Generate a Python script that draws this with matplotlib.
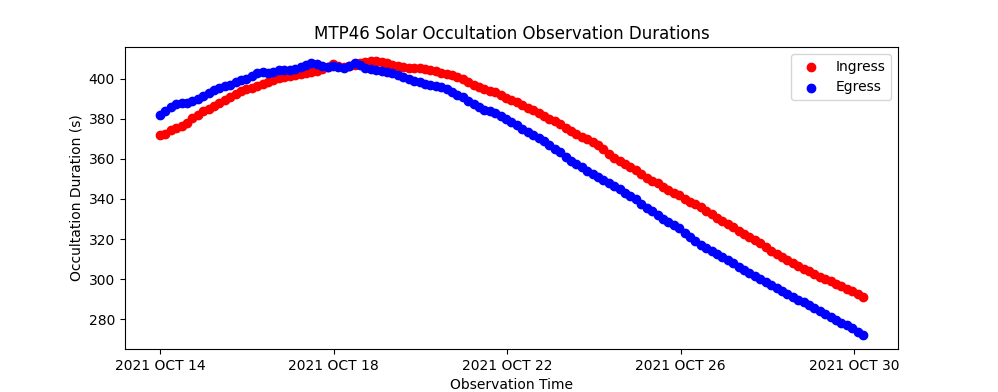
import numpy as np
import matplotlib
matplotlib.use("Agg")
import matplotlib.pyplot as plt

# observation times in days of October 2021
days = np.linspace(14.0, 30.2, 131)

ingress = [372, 372.5, 374.5, 375.5, 376.5, 378, 380.5, 382, 384, 385,
           386.5, 388, 389.5, 391, 392.5, 394, 395, 395.5, 396.5, 397.5,
           398.5, 399.5, 400.5, 401, 401.5, 402, 402.5, 403, 403.5, 404,
           405, 406, 407.5, 406.5, 406, 406.5, 407, 408, 408.5, 409,
           409, 408.5, 408, 407, 406.5, 406, 405.5, 405.5, 405.5, 405,
           404.5, 404, 403, 402.5, 402, 401, 400, 398.5, 397, 396,
           395, 394, 393.5, 392, 390.5, 389.5, 388.5, 387, 385.5, 384.5,
           383, 381.5, 380, 379, 377.5, 375.5, 374, 372.5, 371, 370,
           368.5, 367, 365, 362.5, 360.5, 359, 357.5, 356, 354.5, 352.5,
           350.5, 349, 348, 346, 344.5, 343, 342, 340, 338.5, 337.5,
           336, 334, 332.5, 330.5, 329, 327.5, 326, 324, 322.5, 321,
           319.5, 318, 316, 314, 312.5, 311, 309.5, 308, 306.5, 305,
           304, 302.5, 301, 300, 299, 297.5, 296.5, 295, 294, 292.5,
           291]

egress = [382, 384, 386, 387.5, 388, 388, 389, 390, 391.5, 393,
          394.5, 395.5, 396.5, 397, 398.5, 399.5, 400, 401.5, 403, 403.5,
          403, 403.5, 404.5, 404.5, 404.5, 405, 406, 407, 408, 407.5,
          406.5, 406, 406.5, 406, 405.5, 406.5, 408, 407, 405.5, 405,
          404.5, 404, 403.5, 403, 402, 401, 400, 399, 398.5, 397.5,
          397, 396.5, 396, 395, 393.5, 392, 391, 389, 387.5, 386,
          384.5, 384, 383, 381.5, 380, 378.5, 377, 375, 373.5, 372,
          370.5, 369, 367, 365, 363.5, 361, 359, 357.5, 356, 354,
          352.5, 351, 349.5, 348, 346.5, 345, 343, 341.5, 340, 337.5,
          335.5, 334, 332, 330, 328.5, 327, 325.5, 323, 321, 319,
          317, 315.5, 314, 312.5, 311, 309.5, 308, 306, 304.5, 303,
          301.5, 300, 298.5, 297, 295.5, 294, 292.5, 291, 289.5, 288.5,
          287, 285.5, 284, 282.5, 281, 279.5, 278, 277, 275.5, 273.5,
          272]

tick_days = [14, 18, 22, 26, 30]
tick_labels = ["2021 OCT 14", "2021 OCT 18", "2021 OCT 22", "2021 OCT 26", "2021 OCT 30"]

fig, ax = plt.subplots(figsize=(9.98, 3.92), dpi=100)
ax.scatter(days, ingress, c="r", label="Ingress")
ax.scatter(days, egress, c="b", label="Egress")
ax.set_xticks(tick_days)
ax.set_xticklabels(tick_labels)
ax.set_title("MTP46 Solar Occultation Observation Durations")
ax.set_xlabel("Observation Time")
ax.set_ylabel("Occultation Duration (s)")
ax.legend(loc="upper right")
fig.savefig("out.png")
